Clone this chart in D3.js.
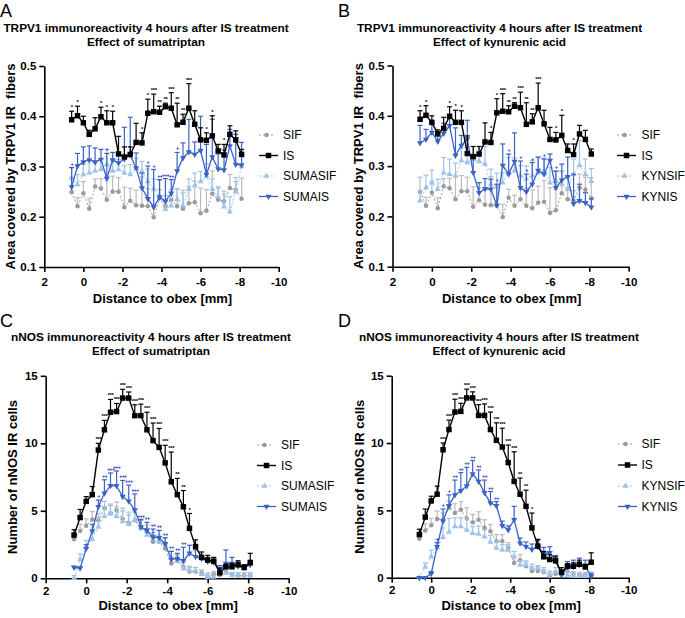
<!DOCTYPE html>
<html><head><meta charset="utf-8">
<script src="https://cdn.jsdelivr.net/npm/d3@7"></script>
<style>body{margin:0;background:#fff}svg{display:block;background:#fff}</style>
</head><body><svg id="c" width="685" height="618"></svg>
<script>
const FONT = '"Liberation Sans", Arial, Helvetica, sans-serif';
// ---------- data ----------
const distance = [0.6,0.3,0,-0.3,-0.6,-0.9,-1.2,-1.5,-1.8,-2.1,-2.4,-2.7,-3.0,-3.3,-3.6,-3.9,-4.2,-4.5,-4.8,-5.1,-5.4,-5.7,-6.0,-6.3,-6.6,-6.9,-7.2,-7.5,-7.8,-8.1];
const xTicks = [2,0,-2,-4,-6,-8,-10];
const trpvTicks = [0.1,0.2,0.3,0.4,0.5];
const nnosTicks = [0,5,10,15];

// TRPV1 (panels A, B)
const trpvSIF    = [0.249,0.221,0.247,0.216,0.260,0.256,0.234,0.250,0.250,0.219,0.232,0.223,0.222,0.221,0.199,0.237,0.221,0.234,0.221,0.216,0.227,0.229,0.207,0.212,0.246,0.234,0.231,0.257,0.253,0.236];
const trpvSIFerr = [0.029,0.017,0.023,0.021,0.015,0.020,0.045,0.031,0.028,0.040,0.025,0.030,0.057,0.035,0.025,0.017,0.021,0.020,0.035,0.037,0.033,0.042,0.050,0.042,0.045,0.023,0.020,0.027,0.025,0.041];
const trpvIS     = [0.393,0.401,0.387,0.364,0.375,0.399,0.387,0.387,0.325,0.319,0.324,0.348,0.347,0.406,0.409,0.408,0.419,0.416,0.383,0.388,0.416,0.384,0.353,0.352,0.361,0.331,0.323,0.364,0.353,0.324];
const trpvISerr  = [0.017,0.019,0.013,0.008,0.022,0.019,0.024,0.023,0.035,0.020,0.015,0.038,0.020,0.028,0.035,0.012,0.007,0.031,0.043,0.016,0.049,0.027,0.024,0.015,0.040,0.013,0.021,0.017,0.018,0.010];
const trpvISstars = ["*","*","","","","*","*","*","","","","","*","*","***","**","**","***","**","**","***","","","*","*","","*","","",""];
const trpvSUMASIF    = [0.277,0.264,0.284,0.287,0.291,0.294,0.304,0.291,0.294,0.287,0.284,0.296,0.290,0.270,0.255,0.243,0.215,0.222,0.235,0.222,0.255,0.262,0.270,0.280,0.255,0.240,0.220,0.210,0.250,0.300];
const trpvSUMASIFerr = [0.020,0.020,0.020,0.025,0.015,0.020,0.030,0.020,0.020,0.015,0.020,0.020,0.020,0.025,0.020,0.030,0.015,0.020,0.020,0.025,0.020,0.025,0.020,0.025,0.020,0.020,0.025,0.030,0.020,0.020];
const trpvSUMAIS    = [0.259,0.301,0.309,0.313,0.309,0.314,0.276,0.313,0.307,0.315,0.323,0.297,0.257,0.236,0.219,0.239,0.231,0.247,0.291,0.317,0.329,0.324,0.332,0.284,0.319,0.295,0.293,0.341,0.304,0.303];
const trpvSUMAISerr = [0.039,0.025,0.030,0.028,0.028,0.020,0.050,0.015,0.020,0.063,0.075,0.030,0.030,0.065,0.075,0.035,0.045,0.027,0.037,0.030,0.065,0.025,0.068,0.060,0.075,0.030,0.040,0.033,0.060,0.045];
const trpvSUMAISmarks = ["+","","","","","","+","","","","","","","+","+","++","+++","++","+","","","","","","","","","","",""];
const trpvKYNSIF    = [0.231,0.257,0.267,0.254,0.287,0.284,0.281,0.311,0.307,0.314,0.309,0.304,0.264,0.261,0.267,0.287,0.291,0.281,0.275,0.281,0.287,0.291,0.267,0.270,0.264,0.254,0.284,0.301,0.284,0.270];
const trpvKYNSIFerr = [0.020,0.025,0.025,0.020,0.030,0.030,0.025,0.025,0.030,0.025,0.030,0.035,0.030,0.025,0.020,0.030,0.025,0.020,0.025,0.030,0.030,0.025,0.030,0.020,0.025,0.025,0.030,0.050,0.030,0.025];
const trpvKYNIS    = [0.346,0.353,0.367,0.349,0.365,0.380,0.321,0.341,0.354,0.287,0.247,0.255,0.254,0.222,0.301,0.284,0.309,0.257,0.249,0.264,0.291,0.284,0.311,0.257,0.272,0.279,0.225,0.231,0.227,0.218];
const trpvKYNISerr = [0.035,0.020,0.017,0.015,0.020,0.015,0.055,0.020,0.037,0.030,0.020,0.020,0.020,0.042,0.043,0.040,0.057,0.053,0.035,0.043,0.027,0.030,0.013,0.033,0.032,0.039,0.059,0.033,0.020,0.017];
const trpvKYNISmarks = ["","","","","","","","","","","","","","+","","+","","+","+","+","","+","","+","","","","","",""];

// nNOS (panels C, D)
const nnosSIF    = [2.9,3.5,3.9,4.35,4.3,5.2,4.8,5.05,4.4,4.1,4.3,3.7,3.45,2.7,2.7,2.2,1.1,1.3,0.85,0.5,0.5,0.4,0.1,0.3,0.25,0.5,0.25,0.2,0.2,0.2];
const nnosSIFerr = [0.3,0.5,0.5,0.6,0.5,0.5,0.7,0.6,0.8,0.6,0.6,0.6,0.5,0.5,0.5,0.4,0.5,0.4,0.3,0.3,0.3,0.2,0.3,0.2,0.2,0.2,0.2,0.2,0.2,0.2];
const nnosIS     = [3.2,4.5,5.7,6.2,9.5,11.0,12.3,12.35,13.35,13.35,12.05,12.05,11.0,10.2,9.7,8.55,7.15,6.2,5.3,3.7,2.35,1.55,1.35,1.25,0.4,0.85,0.85,1.0,0.8,1.15];
const nnosISerr  = [0.4,0.6,0.35,0.6,0.5,0.7,0.95,0.6,0.65,0.45,0.8,0.85,1.3,1.3,1.4,1.3,2.2,1.2,1.2,1.1,0.5,0.4,0.35,0.3,0.35,0.2,0.25,0.3,0.2,0.7];
const nnosISstars = ["","","","","***","***","***","***","***","***","***","***","***","***","***","***","***","**","**","*","","","","","","","","","",""];
const nnosSUMASIF    = [0.0,1.4,2.3,2.9,3.8,4.6,4.8,4.6,4.2,4.0,4.3,3.7,3.2,2.9,2.7,2.5,1.5,1.3,0.7,0.6,0.5,0.3,0.1,0.1,0.5,0.4,0.2,0.2,0.2,0.2];
const nnosSUMASIFerr = [0.2,0.4,0.5,0.5,0.7,0.7,0.6,0.7,0.8,0.9,0.8,0.7,0.5,0.5,0.4,0.5,0.5,0.5,0.5,0.3,0.3,0.3,0.2,0.3,0.3,0.3,0.2,0.2,0.2,0.2];
const nnosSUMAIS    = [0.8,0.75,2.2,3.5,5.3,6.3,6.85,6.85,6.05,5.7,5.05,3.8,3.55,3.05,3.0,2.55,1.4,1.45,1.3,1.85,1.6,1.45,1.25,1.2,0.65,1.1,1.1,0.9,0.8,1.0];
const nnosSUMAISerr = [0.1,0.1,0.3,0.5,0.5,1.0,0.95,1.1,1.2,1.2,1.2,0.55,0.6,0.6,0.55,0.45,0.6,0.4,1.0,0.6,0.5,0.15,0.3,0.3,0.3,1.0,0.45,0.3,0.2,0.35];
const nnosSUMAISmarks = ["","","","","+","++","+++","+++","+++","+++","+++","+++","++","++","++","++","++","++","++","","","","","","","","","","",""];
const nnosKYNSIF    = [0.0,0.8,1.55,2.25,3.0,3.4,3.8,3.8,3.55,3.3,3.25,3.05,2.65,2.2,2.05,2.05,1.55,0.95,0.95,0.7,0.7,0.45,0.2,0.45,0.3,0.2,0.1,0.1,0.1,0.2];
const nnosKYNSIFerr = [0.1,0.3,0.5,0.6,0.7,1.0,0.65,0.65,0.85,0.5,0.6,0.5,0.5,0.5,0.4,0.4,0.4,0.3,0.3,0.3,0.2,0.3,0.3,0.3,0.3,0.3,0.2,0.2,0.2,0.2];
const nnosKYNIS    = [0.0,0.0,0.3,2.3,4.2,5.35,6.15,6.45,6.8,7.7,7.15,6.3,5.55,5.35,3.85,3.55,4.3,2.55,2.3,2.1,2.3,1.8,1.85,1.3,0.2,0.8,0.8,0.95,0.85,0.1];
const nnosKYNISerr = [0.05,0.05,0.15,0.3,0.9,0.8,1.1,1.35,1.4,1.0,0.85,0.95,0.85,0.3,0.35,0.3,1.0,0.4,0.35,0.4,0.45,0.45,0.45,0.35,0.3,0.4,0.5,0.5,0.45,0.2];
const nnosKYNISmarks = ["","","","+","+","+","++","++","++","++","++","++","++","++","","","","","","","","","","","","","","","",""];

// ---------- styles ----------
const GRAY = "#9b9b9b", GRAYBAR = "#bcbcbc", LIGHT = "#9ec3ea", DARK = "#3a62c6", MARK = "#3030b0";
const stSIF  = {color:GRAY, bar:GRAYBAR, lw:1, dash:"2,2", sym:d3.symbolCircle, size:16, rot:0};
const stIS   = {color:"#000", bar:"#000", lw:1.4, dash:null, sym:d3.symbolSquare, size:30, rot:0};
const stLT   = {color:LIGHT, bar:LIGHT, lw:1, dash:"2,2", sym:d3.symbolTriangle, size:16, rot:0};
const stDK   = {color:DARK, bar:DARK, lw:1.3, dash:null, sym:d3.symbolTriangle, size:16, rot:180};

const panels = [
 {letter:"A", lp:[0,16.5], x0:44.3, x1:278.7, yb:267, yt:66, dom:[0.1,0.5], ticks:trpvTicks, fmt:d3.format(".1f"), tpad:6,
  title:["TRPV1 immunoreactivity 4 hours after IS treatment","Effect of sumatriptan"], tcx:146, tb:[31.5,45.5],
  ylab:"Area covered by TRPV1 IR  fibers", ylx:15, xlb:303, legX:259, legTX:283, legY:[135,155.5,176,196.5],
  series:[
   {name:"SIF", v:trpvSIF, e:trpvSIFerr, st:stSIF},
   {name:"IS", v:trpvIS, e:trpvISerr, st:stIS, marks:trpvISstars, mc:"#000"},
   {name:"SUMASIF", v:trpvSUMASIF, e:trpvSUMASIFerr, st:stLT},
   {name:"SUMAIS", v:trpvSUMAIS, e:trpvSUMAISerr, st:stDK, marks:trpvSUMAISmarks, mc:MARK}]},
 {letter:"B", lp:[338,16.5], x0:392.5, x1:628.7, yb:266.7, yt:65.5, dom:[0.1,0.5], ticks:trpvTicks, fmt:d3.format(".1f"), tpad:6,
  title:["TRPV1 immunoreactivity 4 hours after IS treatment","Effect of kynurenic acid"], tcx:499.5, tb:[31.5,45.5],
  ylab:"Area covered by TRPV1 IR  fibers", ylx:363, xlb:303, legX:617, legTX:641.5, legY:[135,155.5,176,196.5],
  series:[
   {name:"SIF", v:trpvSIF, e:trpvSIFerr, st:stSIF},
   {name:"IS", v:trpvIS, e:trpvISerr, st:stIS, marks:trpvISstars, mc:"#000"},
   {name:"KYNSIF", v:trpvKYNSIF, e:trpvKYNSIFerr, st:stLT},
   {name:"KYNIS", v:trpvKYNIS, e:trpvKYNISerr, st:stDK, marks:trpvKYNISmarks, mc:MARK}]},
 {letter:"C", lp:[0,326.7], x0:45.7, x1:288.7, yb:578.3, yt:375.8, dom:[0,15], ticks:nnosTicks, fmt:d=>String(d), tpad:3.5,
  title:["nNOS immunoreactivity 4 hours after IS treatment","Effect of sumatriptan"], tcx:151, tb:[340.7,355],
  ylab:"Number of nNOS IR cells", ylx:17, xlb:609.5, legX:257, legTX:281, legY:[445,465.5,486,506.5],
  series:[
   {name:"SIF", v:nnosSIF, e:nnosSIFerr, st:stSIF},
   {name:"IS", v:nnosIS, e:nnosISerr, st:stIS, marks:nnosISstars, mc:"#000"},
   {name:"SUMASIF", v:nnosSUMASIF, e:nnosSUMASIFerr, st:stLT},
   {name:"SUMAIS", v:nnosSUMAIS, e:nnosSUMAISerr, st:stDK, marks:nnosSUMAISmarks, mc:MARK}]},
 {letter:"D", lp:[338,326.7], x0:391.7, x1:628.7, yb:577.7, yt:375.7, dom:[0,15], ticks:nnosTicks, fmt:d=>String(d), tpad:3.5,
  title:["nNOS immunoreactivity 4 hours after IS treatment","Effect of kynurenic acid"], tcx:499, tb:[340.7,355],
  ylab:"Number of nNOS IR cells", ylx:364, xlb:609.5, legX:618, legTX:641.5, legY:[444,465,486,506.5],
  series:[
   {name:"SIF", v:nnosSIF, e:nnosSIFerr, st:stSIF},
   {name:"IS", v:nnosIS, e:nnosISerr, st:stIS, marks:nnosISstars, mc:"#000"},
   {name:"KYNSIF", v:nnosKYNSIF, e:nnosKYNSIFerr, st:stLT},
   {name:"KYNIS", v:nnosKYNIS, e:nnosKYNISerr, st:stDK, marks:nnosKYNISmarks, mc:MARK}]}
];

const svg = d3.select("#c").attr("font-family", FONT);

function drawPanel(p){
  const g = svg.append("g");
  const x = d3.scaleLinear().domain([2,-10]).range([p.x0,p.x1]);
  const y = d3.scaleLinear().domain(p.dom).range([p.yb,p.yt]);

  // panel letter
  g.append("text").attr("x",p.lp[0]).attr("y",p.lp[1]).attr("font-size","18px").text(p.letter);
  // title
  p.title.forEach((t,i)=>g.append("text").attr("x",p.tcx).attr("y",p.tb[i]).attr("text-anchor","middle")
    .attr("font-size","11.8px").attr("font-weight","bold").text(t));

  // axes
  const xa = g.append("g").attr("transform",`translate(0,${p.yb})`)
    .call(d3.axisBottom(x).tickValues(xTicks).tickFormat(d=>String(d)).tickSize(5).tickSizeOuter(0).tickPadding(p.tpad));
  const ya = g.append("g").attr("transform",`translate(${p.x0},0)`)
    .call(d3.axisLeft(y).tickValues(p.ticks).tickFormat(p.fmt).tickSize(5).tickSizeOuter(0).tickPadding(3));
  [xa,ya].forEach(a=>{
    a.attr("font-family",FONT).attr("font-size",11.5).attr("font-weight","bold");
    a.select(".domain").attr("stroke","#000").attr("stroke-width",1.6);
    a.selectAll(".tick line").attr("stroke","#000").attr("stroke-width",1.6);
    a.selectAll(".tick text").attr("fill","#000");
  });
  // axis titles
  g.append("text").attr("x",(p.x0+p.x1)/2+1).attr("y",p.xlb).attr("text-anchor","middle")
    .attr("font-size","13px").attr("font-weight","bold").text("Distance to obex [mm]");
  g.append("text").attr("transform",`translate(${p.ylx},${(p.yb+p.yt)/2}) rotate(-90)`).attr("text-anchor","middle")
    .attr("font-size","13px").attr("font-weight","bold").style("white-space","pre").text(p.ylab);

  // series draw order: SIF, light, dark, IS
  const order = [p.series[0], p.series[2], p.series[3], p.series[1]];
  order.forEach(s=>{
    const st = s.st, sg = g.append("g");
    // error bars (upper)
    sg.selectAll("line.eb").data(s.v).join("line").attr("class","eb")
      .attr("x1",(v,i)=>x(distance[i])).attr("x2",(v,i)=>x(distance[i]))
      .attr("y1",v=>y(v)).attr("y2",(v,i)=>y(v+s.e[i]))
      .attr("stroke",st.bar).attr("stroke-width",1.2);
    sg.selectAll("line.cap").data(s.v).join("line").attr("class","cap")
      .attr("x1",(v,i)=>x(distance[i])-2.5).attr("x2",(v,i)=>x(distance[i])+2.5)
      .attr("y1",(v,i)=>y(v+s.e[i])).attr("y2",(v,i)=>y(v+s.e[i]))
      .attr("stroke",st.bar).attr("stroke-width",1.2);
    // line
    sg.append("path").datum(s.v)
      .attr("d", d3.line().x((v,i)=>x(distance[i])).y(v=>y(v)))
      .attr("fill","none").attr("stroke",st.color).attr("stroke-width",st.lw)
      .attr("stroke-dasharray",st.dash);
    // markers
    sg.selectAll("path.mk").data(s.v).join("path").attr("class","mk")
      .attr("d", d3.symbol(st.sym, st.size))
      .attr("transform",(v,i)=>`translate(${x(distance[i])},${y(v)}) rotate(${st.rot})`)
      .attr("fill",st.color);
    // significance marks
    if (s.marks){
      const idx = s.v.map((v,i)=>i).filter(i=>s.marks[i]);
      const isPlus = s.mc !== "#000";
      sg.selectAll("text.sg").data(idx).join("text").attr("class","sg")
        .attr("x",i=>x(distance[i])).attr("y",i=>y(s.v[i]+s.e[i])-2)
        .attr("text-anchor","middle").attr("font-size", isPlus ? "5.5px" : "5.8px").attr("font-weight","bold")
        .attr("letter-spacing", isPlus ? "-0.8px" : "-0.3px")
        .attr("fill",s.mc).text(i=>s.marks[i]);
    }
  });

  // legend
  p.series.forEach((s,k)=>{
    const st = s.st, cy = p.legY[k];
    const w = (k===1||k===3) ? 19 : 15;
    g.append("line").attr("x1",p.legX).attr("x2",p.legX+w).attr("y1",cy).attr("y2",cy)
      .attr("stroke",st.color).attr("stroke-width",st.lw).attr("stroke-dasharray",st.dash);
    g.append("path").attr("d",d3.symbol(st.sym,st.size))
      .attr("transform",`translate(${p.legX+w/2},${cy}) rotate(${st.rot})`).attr("fill",st.color);
    g.append("text").attr("x",p.legTX).attr("y",cy+4.3).attr("font-size","12px").text(s.name);
  });
}
panels.forEach(drawPanel);
</script></body></html>
